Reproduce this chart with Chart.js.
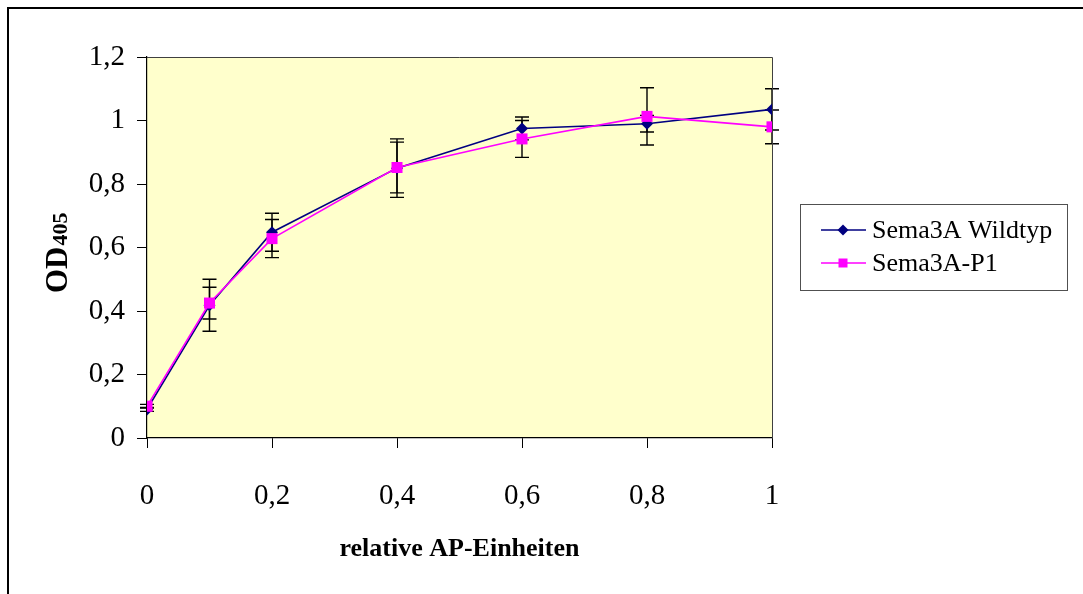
<!DOCTYPE html>
<html>
<head>
<meta charset="utf-8">
<script src="https://cdn.jsdelivr.net/npm/chart.js@4.4.1/dist/chart.umd.min.js"></script>
<style>
html,body{margin:0;padding:0;background:#fff;}
#wrap{position:relative;width:1083px;height:594px;}
</style>
</head>
<body>
<div id="wrap"><canvas id="c" width="1083" height="594"></canvas></div>
<script>
// ---- data ----
const xValues = [0, 0.1, 0.2, 0.4, 0.6, 0.8, 1];
const wildtyp = [0.09, 0.418, 0.648, 0.85, 0.975, 0.99, 1.035];
const wildtypErr = [0.006, 0.082, 0.06, 0.092, 0.036, 0.026, 0.065];
const p1 = [0.10, 0.425, 0.628, 0.852, 0.942, 1.013, 0.98];
const p1Err = [0.006, 0.05, 0.06, 0.08, 0.058, 0.09, 0.053];
const seriesNames = ['Sema3A Wildtyp', 'Sema3A-P1'];
const xTickLabels = {0:'0', 0.2:'0,2', 0.4:'0,4', 0.6:'0,6', 0.8:'0,8', 1:'1'};
const yTickLabels = {0:'0', 0.2:'0,2', 0.4:'0,4', 0.6:'0,6', 0.8:'0,8', 1:'1', 1.2:'1,2'};
const xTitle = 'relative AP-Einheiten';
const yTitleMain = 'OD';
const yTitleSub = '405';

const SERIF = '"Liberation Serif", "Times New Roman", serif';
const NAVY = '#000080';
const MAGENTA = '#FF00FF';

function lbl(map, v) {
  const k = Math.round(v * 10) / 10;
  return map[k] !== undefined ? map[k] : '';
}

const frame = {
  id: 'frame',
  beforeDraw(chart) {
    const {ctx, chartArea: a} = chart;
    ctx.save();
    ctx.fillStyle = '#FFFFCC';
    ctx.fillRect(a.left, a.top, a.right - a.left, a.bottom - a.top);
    ctx.strokeStyle = '#000';
    ctx.lineWidth = 2;
    ctx.strokeRect(8, 8, 1200, 700);
    ctx.restore();
  },
  afterDatasetsDraw(chart) {
    const {ctx, chartArea: a} = chart;
    ctx.save();
    ctx.strokeStyle = '#404040';
    ctx.lineWidth = 1;
    ctx.beginPath();
    ctx.moveTo(a.left, a.top + 0.5);
    ctx.lineTo(a.right + 0.5, a.top + 0.5);
    ctx.lineTo(a.right + 0.5, a.bottom);
    ctx.stroke();
    ctx.restore();
  }
};

const errorBars = {
  id: 'errorBars',
  beforeDatasetsDraw(chart) {
    const {ctx, scales} = chart;
    const errs = [wildtypErr, p1Err];
    ctx.save();
    ctx.strokeStyle = '#000';
    ctx.lineWidth = 1.4;
    chart.data.datasets.forEach((ds, i) => {
      ds.data.forEach((pt, j) => {
        const e = errs[i][j];
        const px = scales.x.getPixelForValue(pt.x);
        const yt = scales.y.getPixelForValue(pt.y + e);
        const yb = scales.y.getPixelForValue(pt.y - e);
        ctx.beginPath();
        ctx.moveTo(px, yt); ctx.lineTo(px, yb);
        ctx.moveTo(px - 7, yt); ctx.lineTo(px + 7, yt);
        ctx.moveTo(px - 7, yb); ctx.lineTo(px + 7, yb);
        ctx.stroke();
      });
    });
    ctx.restore();
  }
};

const yTitlePlugin = {
  id: 'yTitle',
  afterDraw(chart) {
    const {ctx} = chart;
    ctx.save();
    ctx.translate(67, 293);
    ctx.rotate(-Math.PI / 2);
    ctx.fillStyle = '#000';
    ctx.textBaseline = 'alphabetic';
    ctx.textAlign = 'left';
    ctx.font = 'bold 31px ' + SERIF;
    ctx.fillText(yTitleMain, 0, 0);
    const w = ctx.measureText(yTitleMain).width;
    ctx.font = 'bold 22px ' + SERIF;
    ctx.fillText(yTitleSub, w + 1, 0);
    ctx.restore();
  }
};

const legendPlugin = {
  id: 'boxLegend',
  afterDraw(chart) {
    const {ctx} = chart;
    const bx = 800, by = 204, bw = 267, bh = 86;
    ctx.save();
    ctx.fillStyle = '#fff';
    ctx.fillRect(bx, by, bw, bh);
    ctx.strokeStyle = '#505050';
    ctx.lineWidth = 1;
    ctx.strokeRect(bx + 0.5, by + 0.5, bw, bh);
    const rows = [
      {y: 230, color: NAVY, style: 'diamond'},
      {y: 263, color: MAGENTA, style: 'square'}
    ];
    rows.forEach((r, i) => {
      ctx.strokeStyle = r.color;
      ctx.lineWidth = 1.5;
      ctx.beginPath();
      ctx.moveTo(821, r.y); ctx.lineTo(866, r.y);
      ctx.stroke();
      ctx.fillStyle = r.color;
      ctx.beginPath();
      if (r.style === 'diamond') {
        ctx.moveTo(843, r.y - 5.5); ctx.lineTo(848.5, r.y);
        ctx.lineTo(843, r.y + 5.5); ctx.lineTo(837.5, r.y);
        ctx.closePath();
      } else {
        ctx.rect(838.5, r.y - 4.5, 9, 9);
      }
      ctx.fill();
      ctx.fillStyle = '#000';
      ctx.font = '26px ' + SERIF;
      ctx.textBaseline = 'middle';
      ctx.textAlign = 'left';
      ctx.fillText(seriesNames[i], 872, r.y + 1);
    });
    ctx.restore();
  }
};

new Chart(document.getElementById('c'), {
  type: 'line',
  data: {
    datasets: [
      {
        label: seriesNames[0],
        data: xValues.map((x, i) => ({x, y: wildtyp[i]})),
        borderColor: NAVY,
        backgroundColor: NAVY,
        borderWidth: 1.6,
        pointStyle: 'rectRot',
        pointRadius: 6,
        pointBorderWidth: 0,
        pointBackgroundColor: NAVY,
        tension: 0,
        order: 2
      },
      {
        label: seriesNames[1],
        data: xValues.map((x, i) => ({x, y: p1[i]})),
        borderColor: MAGENTA,
        backgroundColor: MAGENTA,
        borderWidth: 1.6,
        pointStyle: 'rect',
        pointRadius: 7.8,
        pointBorderWidth: 0,
        pointBackgroundColor: MAGENTA,
        tension: 0,
        order: 1
      }
    ]
  },
  options: {
    responsive: false,
    animation: false,
    devicePixelRatio: 1,
    layout: {padding: {left: 0, top: 57, right: 311, bottom: 0}},
    plugins: {legend: {display: false}, tooltip: {enabled: false}},
    scales: {
      x: {
        type: 'linear',
        min: 0, max: 1,
        afterFit(s) { s.height = 156; },
        ticks: {
          stepSize: 0.2,
          padding: 31,
          color: '#000',
          font: {family: SERIF, size: 29},
          callback: (v) => lbl(xTickLabels, v)
        },
        grid: {display: true, drawOnChartArea: false, drawTicks: true, tickLength: 10, color: '#000'},
        border: {display: true, color: '#000', width: 1.2},
        title: {
          display: true,
          text: xTitle,
          color: '#000',
          font: {family: SERIF, size: 26, weight: 'bold'},
          padding: {top: 0, bottom: 29}
        }
      },
      y: {
        type: 'linear',
        min: 0, max: 1.2,
        afterFit(s) { s.width = 147; },
        ticks: {
          stepSize: 0.2,
          padding: 12,
          color: '#000',
          font: {family: SERIF, size: 29},
          callback: (v) => lbl(yTickLabels, v)
        },
        grid: {display: true, drawOnChartArea: false, drawTicks: true, tickLength: 10, color: '#000'},
        border: {display: true, color: '#000', width: 1.2}
      }
    }
  },
  plugins: [frame, errorBars, yTitlePlugin, legendPlugin]
});
</script>
</body>
</html>
